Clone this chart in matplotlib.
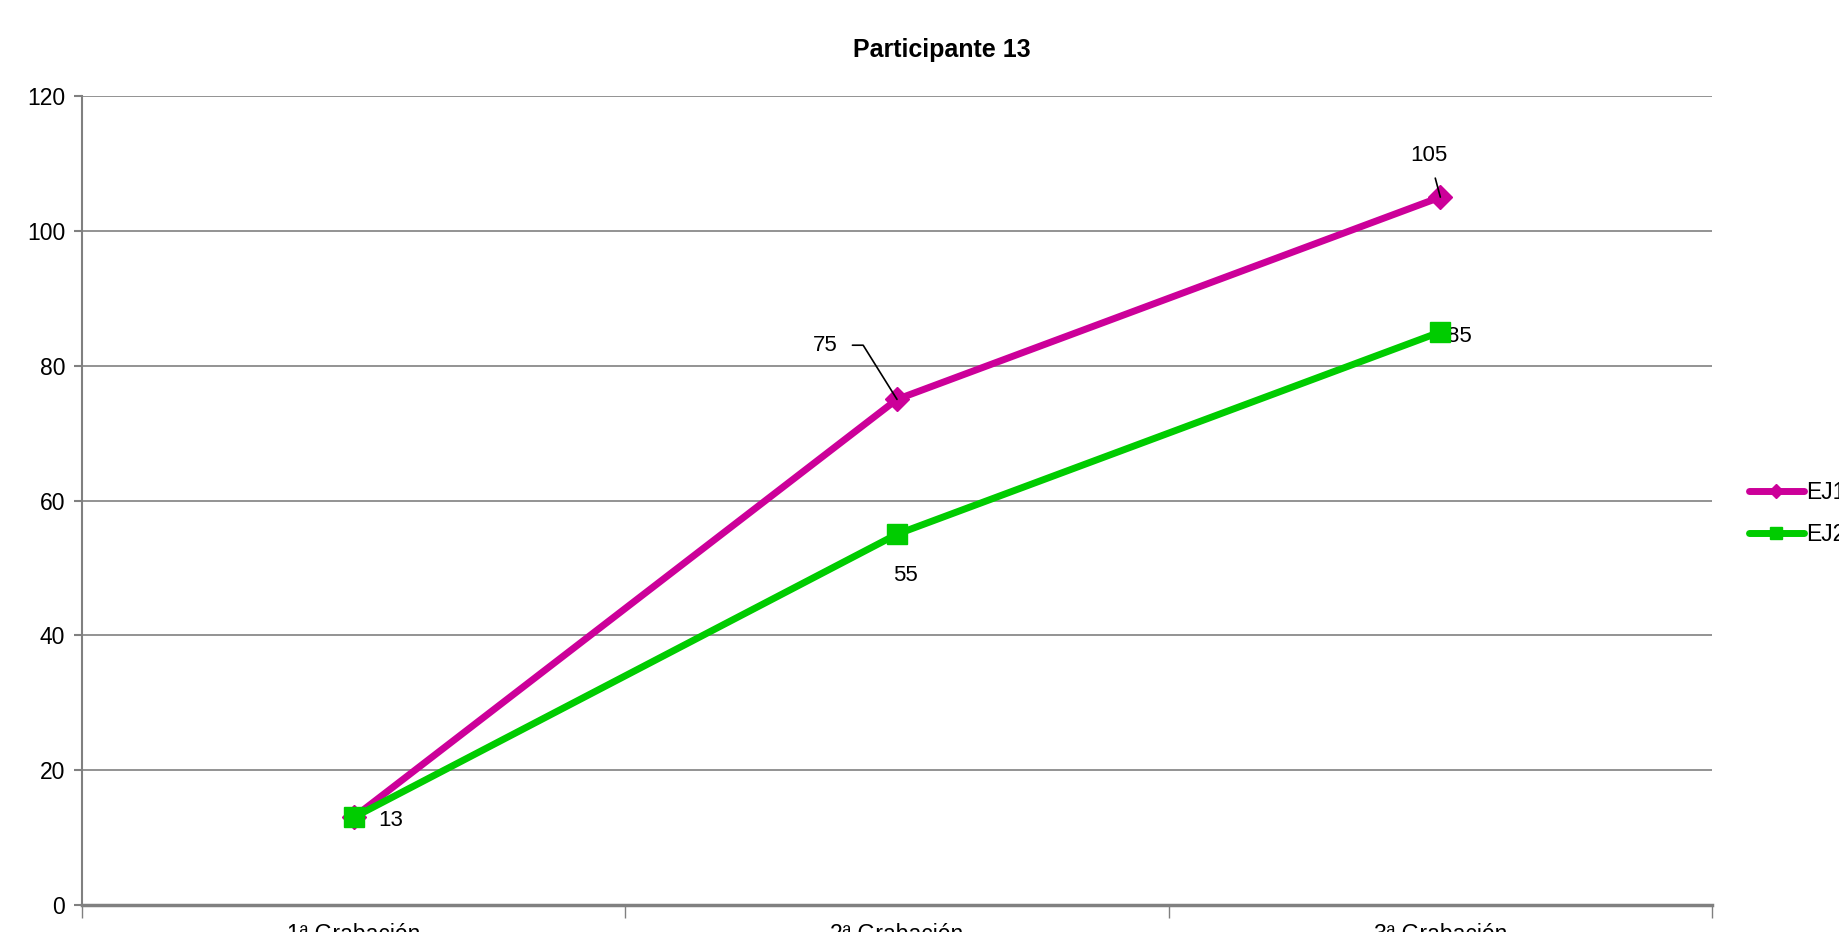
import matplotlib.pyplot as plt
from matplotlib.lines import Line2D

# data
categories = ["1ª Grabación", "2ª Grabación", "3ª Grabación"]
series_names = ["EJ1", "EJ2"]
ej1 = [13, 75, 105]
ej2 = [13, 55, 85]

plt.rcParams['font.family'] = ['Liberation Sans', 'DejaVu Sans']

fig = plt.figure(figsize=(18.4, 9.32), dpi=100)
ax = fig.add_axes([82 / 1840, 1 - 905 / 932, (1712 - 82) / 1840, (905 - 96) / 932])

x = [i + 0.5 for i in range(len(categories))]
ax.plot(x, ej1, color='#CC0099', lw=5, marker='D', ms=12, zorder=3)
ax.plot(x, ej2, color='#00CC00', lw=5, marker='s', ms=15, zorder=4)

ax.set_xlim(0, len(categories))
ax.set_ylim(0, 120)
ax.set_yticks(range(0, 121, 20))
ax.set_xticks(range(0, len(categories) + 1))
ax.set_xticklabels([])
ax.set_xticks(x, minor=True)
ax.set_xticklabels(categories, minor=True)
ax.tick_params(axis='x', which='minor', length=0, pad=13, labelsize=16.5)
ax.tick_params(axis='x', which='major', length=9, color='#808080', width=1)
ax.tick_params(axis='y', length=6, color='#808080', width=1.5, labelsize=16.5, pad=6)
ax.grid(axis='y', color='#808080', lw=1.2)
ax.set_axisbelow(True)
for s in ['top', 'right']:
    ax.spines[s].set_visible(False)
ax.spines['left'].set_color('#808080')
ax.spines['left'].set_linewidth(1.5)
ax.spines['bottom'].set_color('#808080')
ax.spines['bottom'].set_linewidth(2.5)

fig.text(942 / 1840, 1 - 50 / 932, "Participante 13", ha='center', va='center',
         fontsize=18, fontweight='bold')

# data labels
ax.annotate(str(ej1[1]), (x[1], ej1[1]), xytext=(-52, 39), textcoords='offset points',
            ha='center', va='center', fontsize=16,
            arrowprops=dict(arrowstyle='-', color='black', lw=1.2, shrinkA=9, shrinkB=0,
                            connectionstyle='angle,angleA=0,angleB=122,rad=0'))
ax.annotate(str(ej1[2]), (x[2], ej1[2]), xytext=(-8, 30), textcoords='offset points',
            ha='center', va='center', fontsize=16,
            arrowprops=dict(arrowstyle='-', color='black', lw=1.2, shrinkA=7, shrinkB=0))
ax.annotate(str(ej2[0]), (x[0], ej2[0]), xytext=(27, -2), textcoords='offset points',
            ha='center', va='center', fontsize=16)
ax.annotate(str(ej2[1]), (x[1], ej2[1]), xytext=(6, -30), textcoords='offset points',
            ha='center', va='center', fontsize=16)
ax.annotate(str(ej2[2]), (x[2], ej2[2]), xytext=(14, -3), textcoords='offset points',
            ha='center', va='center', fontsize=16)

handles = [Line2D([], [], color='#CC0099', lw=5, marker='D', ms=7, solid_capstyle='round'),
           Line2D([], [], color='#00CC00', lw=5, marker='s', ms=8, solid_capstyle='round')]
fig.legend(handles, series_names, loc='upper left', bbox_to_anchor=(1749 / 1840, 1 - 481 / 932),
           frameon=False, fontsize=16.5, handlelength=2.4, handletextpad=0.1,
           labelspacing=0.85, borderaxespad=0, borderpad=0)

fig.savefig("out.png", dpi=100)
